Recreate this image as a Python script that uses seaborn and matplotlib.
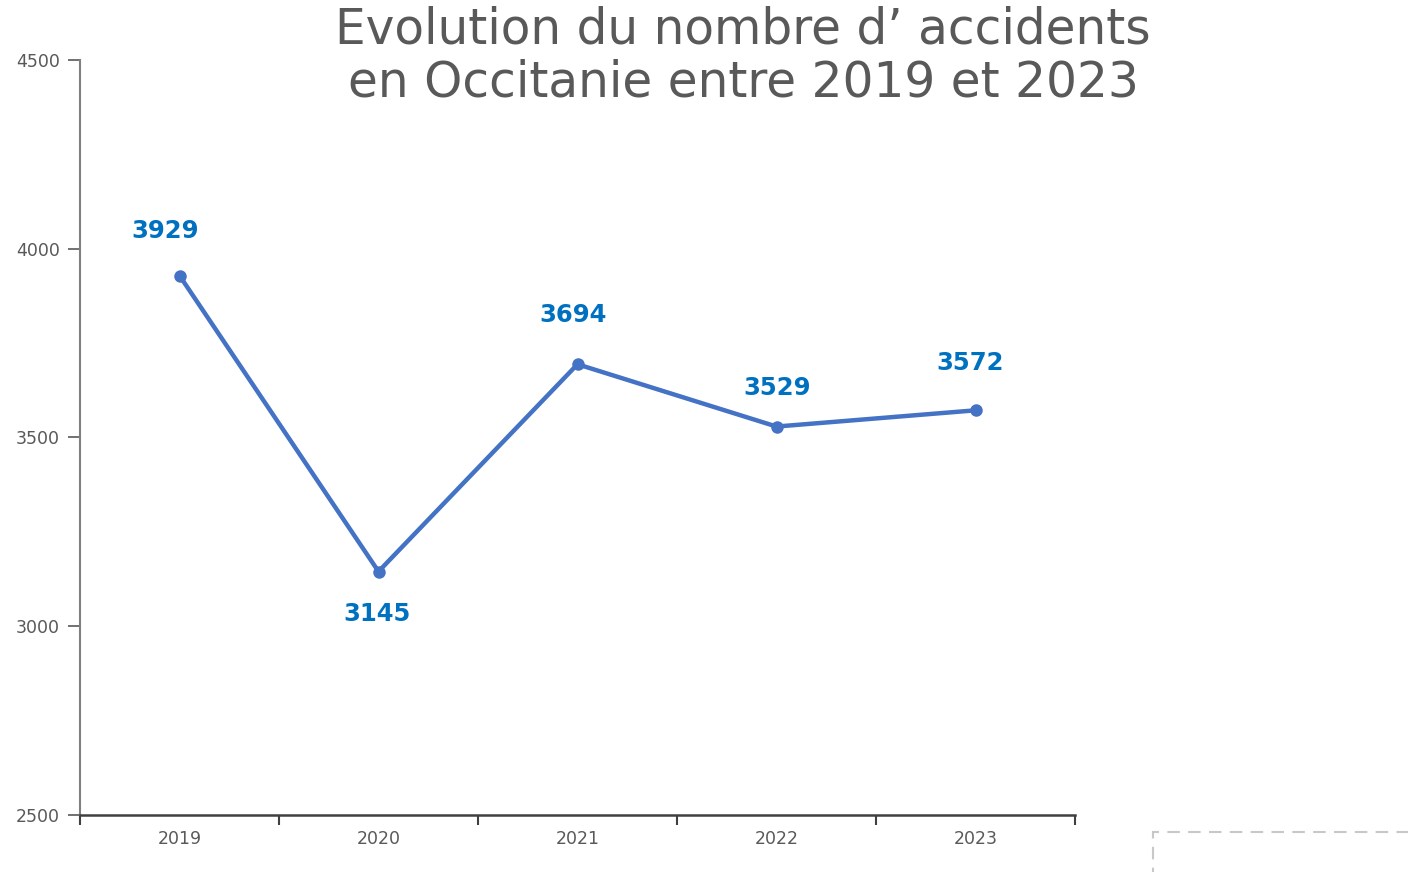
"""
Evolution du nombre d'accidents en Occitanie (2019-2023)
"""
import numpy as np
import pandas as pd
import matplotlib
matplotlib.use('Agg')
import matplotlib.pyplot as plt
from matplotlib.patches import Rectangle
import seaborn as sns

# données
years = ['2019', '2020', '2021', '2022', '2023']
accidents = [3929, 3145, 3694, 3529, 3572]
y_ticks = [2500, 3000, 3500, 4000, 4500]
title = "Evolution du nombre d\u2019 accidents\nen Occitanie entre 2019 et 2023"

# décalage des étiquettes (pixels)
label_offsets = [(-14, 45), (-1, -42), (-4, 49), (1, 39), (-5, 47)]

sns.set_theme(style='white')
plt.rcParams['font.family'] = ['DejaVu Sans']

df = pd.DataFrame({'annee': years, 'accidents': accidents})

fig = plt.figure(figsize=(14.08, 8.72), dpi=100)
ax = fig.add_axes([80 / 1408, 1 - 815 / 872, 995 / 1408, 755 / 872])

sns.lineplot(data=df, x='annee', y='accidents', ax=ax, color='#4472C4',
             linewidth=3.2, marker='o', markersize=9, markeredgewidth=0)

ax.set_xlim(-0.5, 4.5)
ax.set_ylim(y_ticks[0], y_ticks[-1])
ax.set_yticks(y_ticks)
ax.set_yticklabels([str(v) for v in y_ticks], fontsize=12.5, color='#595959')

# ticks aux limites, étiquettes au centre
ax.set_xticks(np.arange(-0.5, 5, 1))
ax.set_xticklabels([])
ax.set_xticks(range(len(years)), minor=True)
ax.set_xticklabels(years, minor=True, fontsize=12.5, color='#595959')
ax.tick_params(axis='x', which='major', direction='out', length=7, width=1.5,
               color='#404040', bottom=True)
ax.tick_params(axis='x', which='minor', length=0, pad=11, bottom=True)
ax.tick_params(axis='y', direction='out', length=8.5, width=1.2,
               color='#595959', left=True, pad=6)

ax.set_xlabel('')
ax.set_ylabel('')
for s in ['top', 'right']:
    ax.spines[s].set_visible(False)
ax.spines['left'].set_color('#7f7f7f')
ax.spines['left'].set_linewidth(1.5)
ax.spines['bottom'].set_color('#404040')
ax.spines['bottom'].set_linewidth(1.8)

for i, v in enumerate(accidents):
    dx, dy = label_offsets[i]
    ax.annotate(str(v), (i, v), xytext=(dx, dy), textcoords='offset pixels',
                ha='center', va='center', fontsize=17.5, fontweight='bold',
                color='#0070C0')

fig.text(743 / 1408, 1 - 56 / 872, title, ha='center', va='center',
         fontsize=35, color='#595959', linespacing=1.12)

# cadre pointillé en bas à droite
fig.patches.append(Rectangle((1153 / 1408, -0.1), 0.3, 0.1 + 40 / 872,
                             transform=fig.transFigure, fill=False,
                             edgecolor='#c8c8c8', linestyle=(0, (6, 4)),
                             linewidth=1.5))

fig.savefig('out.png', dpi=100)
